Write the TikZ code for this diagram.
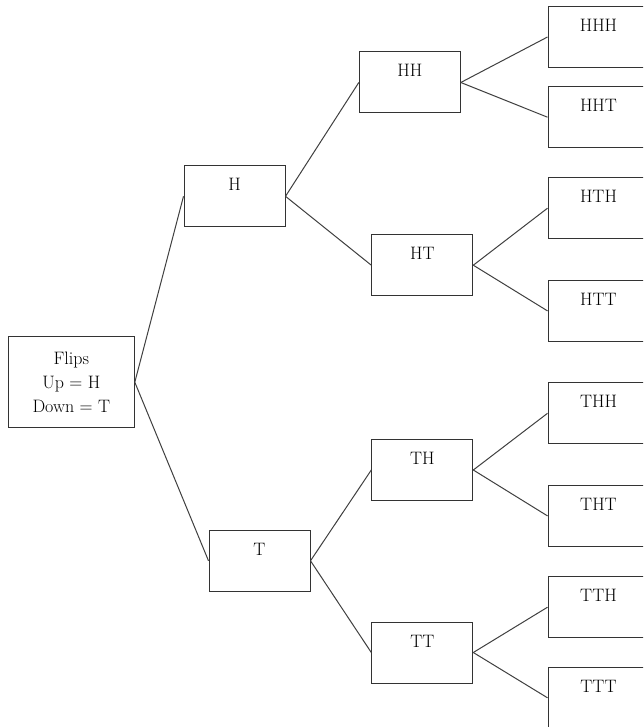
\documentclass[tikz,border=0pt]{standalone}
\begin{document}
\begin{tikzpicture}[x=1pt,y=-1pt,
  every node/.style={font=\fontsize{18}{23.7}\selectfont},
  box/.style={draw=black!80, line width=1pt, minimum width=101pt, minimum height=61pt,
              inner sep=0pt, text height=13pt, text depth=24pt},
  rootbox/.style={draw=black!80, line width=1pt, minimum width=126pt, minimum height=91pt,
              inner sep=0pt, align=center},
  link/.style={draw=black!75, line width=1pt}]
\useasboundingbox (0,0) rectangle (643,727);
\clip (0,0) rectangle (643,727);
\fill[white] (0,0) rectangle (643,727);
% root
\node[rootbox] (root) at (71.3,382.2) {Flips\\Up = H\\Down = T};
% level 1
\node[box] (H) at (234.5,196.3) {H};
\node[box] (T) at (259.5,560.8) {T};
% level 2
\node[box] (HH) at (409.8,82.5) {HH};
\node[box] (HT) at (422.3,265.2) {HT};
\node[box] (TH) at (422.3,470) {TH};
\node[box] (TT) at (422.3,652.5) {TT};
% level 3
\node[box] (HHH) at (598.5,37) {HHH};
\node[box] (HHT) at (598.5,117.2) {HHT};
\node[box] (HTH) at (598.5,208.2) {HTH};
\node[box] (HTT) at (598.5,310.9) {HTT};
\node[box] (THH) at (598.5,413.3) {THH};
\node[box] (THT) at (598.5,515.9) {THT};
\node[box] (TTH) at (598.5,607.2) {TTH};
\node[box] (TTT) at (598.5,697.8) {TTT};
% connectors
\draw[link] (root.east) -- (H.west);
\draw[link] (root.east) -- (T.west);
\draw[link] (H.east) -- (HH.west);
\draw[link] (H.east) -- (HT.west);
\draw[link] (T.east) -- (TH.west);
\draw[link] (T.east) -- (TT.west);
\draw[link] (HH.east) -- (HHH.west);
\draw[link] (HH.east) -- (HHT.west);
\draw[link] (HT.east) -- (HTH.west);
\draw[link] (HT.east) -- (HTT.west);
\draw[link] (TH.east) -- (THH.west);
\draw[link] (TH.east) -- (THT.west);
\draw[link] (TT.east) -- (TTH.west);
\draw[link] (TT.east) -- (TTT.west);
\end{tikzpicture}
\end{document}
